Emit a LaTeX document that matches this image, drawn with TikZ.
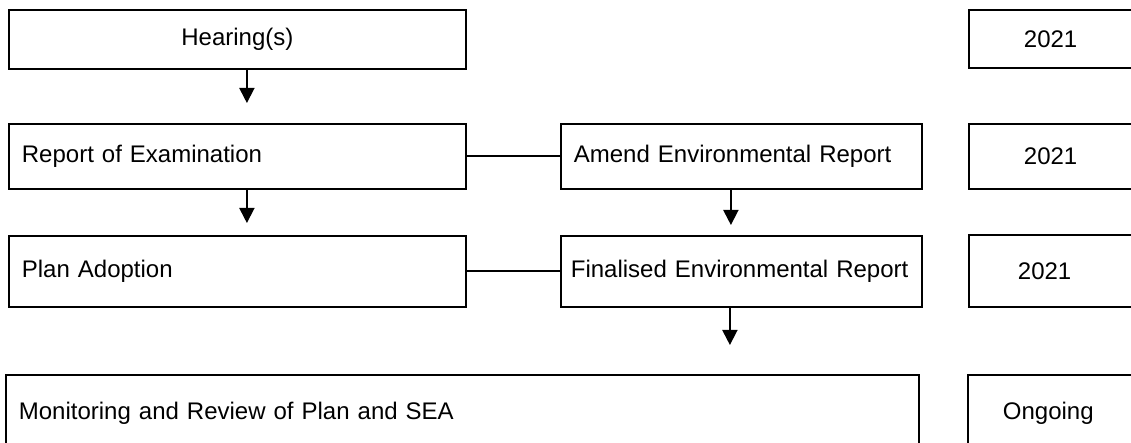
\documentclass[tikz,border=0pt]{standalone}
\usepackage{fontspec}
\setmainfont{Liberation Sans}
\usetikzlibrary{arrows.meta}

\begin{document}
\begin{tikzpicture}[x=1pt,y=1pt,
  stagebox/.style={draw,line width=0.9pt,anchor=north west,inner ysep=0pt,font=\fontsize{12}{14}\selectfont},
  leftbox/.style={stagebox,align=left,inner xsep=6.5pt,text width=#1},
  datebox/.style={stagebox,align=left,text width=80pt,inner xsep=#1},
  flow/.style={line width=0.9pt,-{Triangle[width=7.5pt,length=7.5pt]}}]

 \useasboundingbox (0,0) rectangle (565.5,-221.5);
 \clip (0,0) rectangle (565.5,-221.5);

 \node[stagebox,minimum width=228.5pt,minimum height=29.5pt] (hear) at (4,-4.5) {Hearing(s)};
 \node[leftbox=215.5pt,minimum height=32.5pt] (rep) at (4,-61.5) {Report of Examination};
 \node[leftbox=215.5pt,minimum height=35.5pt] (plan) at (4,-117.5) {Plan Adoption};
 \node[leftbox=167.5pt,minimum height=32.5pt] (amd) at (280,-61.5) {Amend Environmental Report};
 \node[leftbox=170.5pt,inner xsep=5pt,minimum height=35.5pt] (fin) at (280,-117.5) {Finalised Environmental Report};
 \node[leftbox=443.5pt,minimum height=38pt] (mon) at (2.5,-187) {Monitoring and Review of Plan and SEA};

 \node[datebox=27.5pt,minimum height=29pt] (yr1) at (484,-4.5) {2021};
 \node[datebox=27.5pt,minimum height=32.5pt] (yr2) at (484,-61.5) {2021};
 \node[datebox=24.5pt,minimum height=36pt] (yr3) at (484,-117) {2021};
 \node[datebox=17.5pt,minimum height=38pt] (yr4) at (483.5,-187) {Ongoing};

 \draw[flow,shorten >=10pt] ([xshift=4.75pt]hear.south) -- ([xshift=4.75pt]rep.north);
 \draw[flow,shorten >=6pt] ([xshift=4.75pt]rep.south) -- ([xshift=4.75pt]plan.north);
 \draw[flow,shorten >=5pt] ([xshift=-5.25pt]amd.south) -- ([xshift=-5.25pt]fin.north);
 \coordinate (finout) at ([xshift=-5.75pt]fin.south);
 \draw[flow,shorten >=14.5pt] (finout) -- (finout |- mon.north);

 \draw[line width=0.9pt] (rep.east) -- (amd.west)
                         (plan.east) -- (fin.west);
\end{tikzpicture}
\end{document}
